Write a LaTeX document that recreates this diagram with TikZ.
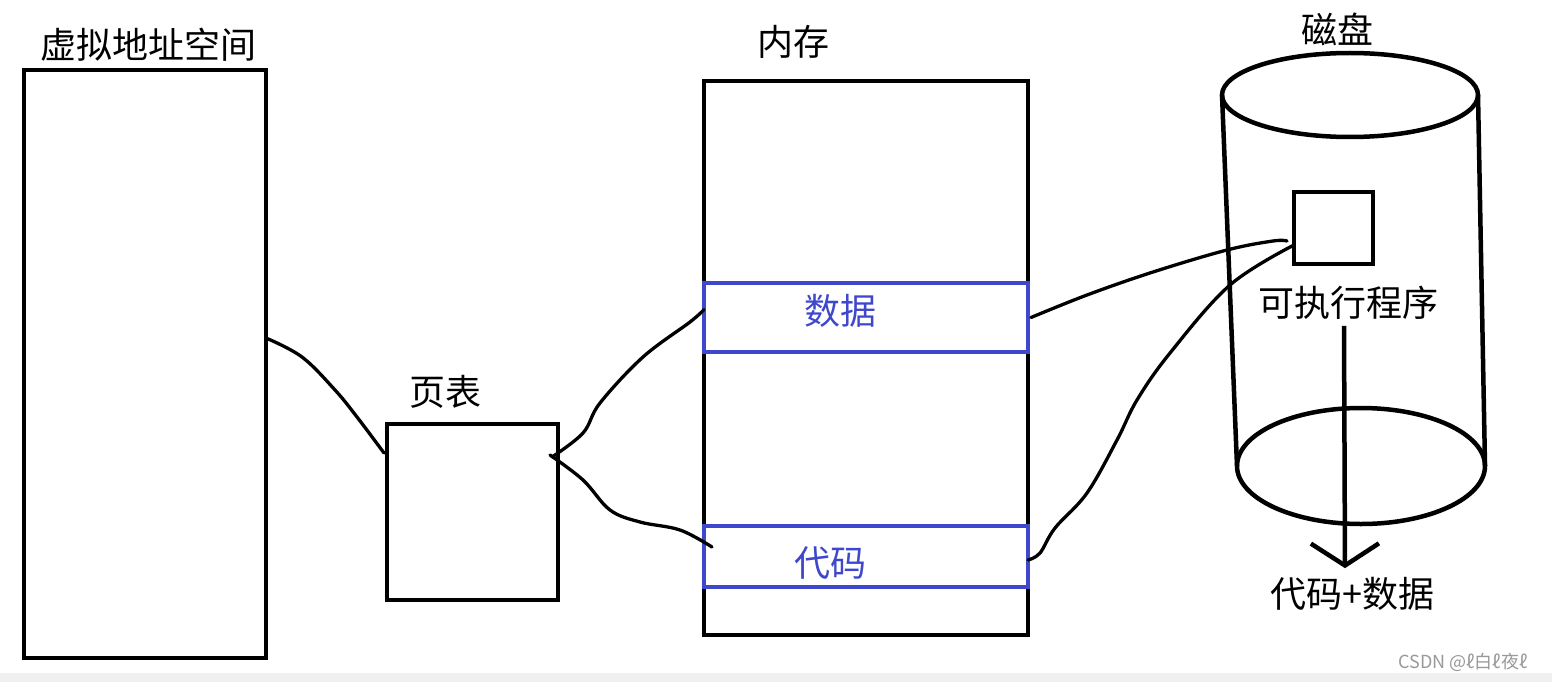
\documentclass[tikz,border=0pt]{standalone}
\usepackage{fontspec}
\setmainfont{Noto Sans CJK SC}
\usepackage{xcolor}
\usetikzlibrary{arrows.meta,positioning,calc}
\definecolor{paintblue}{HTML}{3F48CC}
\definecolor{stripgray}{HTML}{F0F0F0}

\begin{document}
\begin{tikzpicture}[
  x=1pt, y=-1pt,
  big/.style={font=\fontsize{36}{42}\selectfont, inner sep=0pt},
  box/.style={draw, line width=4.5pt, inner sep=0pt, outer sep=0pt},
  seg/.style={draw=paintblue, line width=4pt, inner sep=0pt, outer sep=0pt},
  wire/.style={line width=3.3pt, line cap=round, line join=round},
]

%─── Canvas ──────────────────────────────────────────────────────────────────
\useasboundingbox (0,0) rectangle (1552,682);
\fill[white] (0,0) rectangle (1552,682);
\fill[stripgray] (0,673) rectangle (1552,682);

%─── Virtual address space ───────────────────────────────────────────────────
\node[box, minimum width=242pt, minimum height=588pt] (vas) at (145,364) {};
\node[big] (vaslbl) at (148,45) {虚拟地址空间};

%─── Page table ──────────────────────────────────────────────────────────────
\node[box, minimum width=171pt, minimum height=176pt] (pt) at (472.5,512) {};
\node[big] (ptlbl) at (445,392) {页表};

%─── Memory with data / code segments ────────────────────────────────────────
\node[box, minimum width=324pt, minimum height=554pt] (mem) at (866,358) {};
\node[big] (memlbl) at (793,42) {内存};

\node[seg, minimum width=324pt, minimum height=69pt] (data) at (866,317.5) {};
\node[big, text=paintblue] (datalbl) at (840,311) {数据};

\node[seg, minimum width=324pt, minimum height=61pt] (code) at (866,556.5) {};
\node[big, text=paintblue] (codelbl) at (830,563) {代码};

%─── Disk (hand-drawn cylinder) ──────────────────────────────────────────────
\draw[line width=4.5pt] (1350,95) ellipse [x radius=128, y radius=42];
\draw[line width=4.5pt] (1361,466) ellipse [x radius=124, y radius=58];
\draw[line width=4.5pt] (1222,95) -- (1237,466);
\draw[line width=4.5pt] (1478,95) -- (1485,466);
\node[big] (disklbl) at (1337,29) {磁盘};

\node[box, minimum width=79pt, minimum height=72pt] (exe) at (1333.5,228) {};
\node[big] (exelbl) at (1348,303) {可执行程序};
\node[big] (outlbl) at (1352,594) {代码+数据};

\draw[line width=4.5pt, -{Straight Barb[length=22pt, width=68pt]}]
      ([xshift=-4pt,yshift=-6pt]exelbl.south) -- ([xshift=-7pt,yshift=9pt]outlbl.north);

%─── Mapping lines ───────────────────────────────────────────────────────────
\draw[wire] plot[smooth, tension=0.6] coordinates {
      ([yshift=26pt]vas.east) (302,357) (335,390) (357,417) ([xshift=-3pt,yshift=59pt]pt.west)};
\draw[wire] plot[smooth, tension=0.6] coordinates {
      ([xshift=-6pt,yshift=55pt]pt.east) (583,433) (600,403) (643,357) (690,322) ([yshift=8pt]data.west)};
\draw[wire] plot[smooth, tension=0.6] coordinates {
      ([xshift=-8pt,yshift=57pt]pt.east) (583,480) (610,510) (640,522) (680,530) ([xshift=8pt,yshift=9.5pt]code.west)};
\draw[wire] plot[smooth, tension=0.6] coordinates {
      ([xshift=3pt]data.east) (1087,295) (1153,272) (1227,250) (1273,241) ([xshift=-7pt,yshift=-13pt]exe.west)};
\draw[wire] plot[smooth, tension=0.6] coordinates {
      ([yshift=-3.5pt]code.east) (1040,553) (1055,528) (1087,493) (1117,440) (1137,400) (1170,353) (1230,285) ([yshift=-17pt]exe.west)};

%─── Watermark ───────────────────────────────────────────────────────────────
\node[font=\fontsize{18}{21}\selectfont, text=gray!80, inner sep=0pt] (mark) at (1463,662) {CSDN @ℓ白ℓ夜ℓ};

\end{tikzpicture}
\end{document}
